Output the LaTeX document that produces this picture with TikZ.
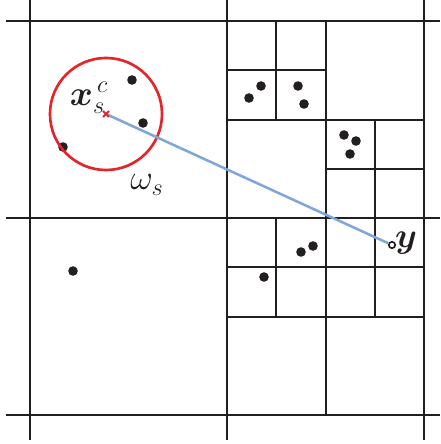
\documentclass[tikz,border=0pt]{standalone}
\usepackage{amsmath}
\usepackage{bm}
\usetikzlibrary{positioning}
\definecolor{ink}{HTML}{231F20}
\definecolor{ballcol}{HTML}{E3262B}
\definecolor{linkcol}{HTML}{7FA6D9}

\begin{document}
\begin{tikzpicture}[
  x=0.025cm, y=-0.025cm,
  gridline/.style={ink, line width=2.1pt},
  dot/.style={circle, fill=ink, inner sep=0pt, minimum size=0.24cm},
  lbl/.style={ink, font=\fontsize{24}{28}\selectfont, inner sep=0pt}]

\useasboundingbox (0,0) rectangle (440,444);

% ---- coarse cells -------------------------------------------------------
\foreach \y in {21,218,415} \draw[gridline] (6,\y) -- (440,\y);
\foreach \x in {30,227,424} \draw[gridline] (\x,0) -- (\x,440);

% ---- refined cells ------------------------------------------------------
\draw[gridline] (326,21) -- (326,415);
\draw[gridline] (227,120) -- (424,120);
\draw[gridline] (276,21) -- (276,120);
\draw[gridline] (227,70) -- (326,70);
\draw[gridline] (375,120) -- (375,218);
\draw[gridline] (326,169) -- (424,169);
\foreach \y in {267,317} \draw[gridline] (227,\y) -- (424,\y);
\foreach \x in {276,375} \draw[gridline] (\x,218) -- (\x,317);

% ---- sources ------------------------------------------------------------
\foreach \px/\py [count=\i] in {132/80, 143/123, 63/147, 261/86, 249/98,
    298/86, 304/104, 344/135, 356/141, 350/154, 313/246, 301/252,
    264/277, 73/271}
  \node[dot] (p\i) at (\px,\py) {};

% ---- cluster ball and target --------------------------------------------
\coordinate (xc) at (106,114);
\node[draw=ballcol, circle, line width=1.9pt, minimum size=2.8cm, inner sep=0pt] (ws) at (xc) {};
\node[circle, draw=ink, fill=white, line width=1.2pt, inner sep=0pt, minimum size=0.16cm] (ypt) at (392,245) {};

\draw[linkcol, line width=1.8pt] (xc) -- (ypt);
\draw[ballcol, line width=1.5pt] (xc) ++(-3,-3) -- ++(6,6) (xc) ++(-3,3) -- ++(6,-6);

% ---- labels -------------------------------------------------------------
\node[lbl] (xlab) at (89,98) {$\bm{x}_s^{\,c}$};
\node[lbl] (wlab) at (147,185) {$\omega_s$};
\node[lbl] (ylab) at (406,243) {$\bm{y}$};

\end{tikzpicture}
\end{document}
